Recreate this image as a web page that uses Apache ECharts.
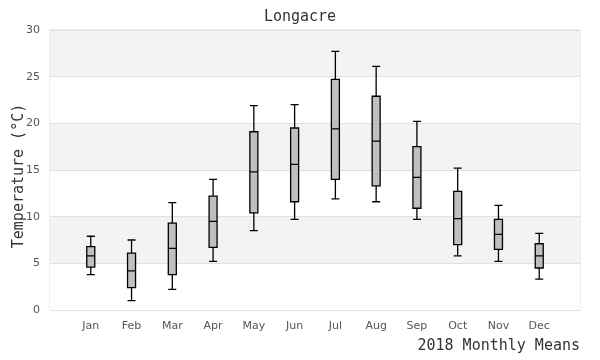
<!DOCTYPE html>
<html>
<head>
<meta charset="utf-8">
<script src="https://cdn.jsdelivr.net/npm/echarts@6/dist/echarts.min.js"></script>
<style>html,body{margin:0;padding:0;background:#fff}#c{width:600px;height:360px}</style>
</head>
<body>
<div id="c"></div>
<script>
var months = ['Jan','Feb','Mar','Apr','May','Jun','Jul','Aug','Sep','Oct','Nov','Dec'];
var minVals = [3.8, 1.0, 2.2, 5.2, 8.5, 9.7, 11.9, 11.6, 9.7, 5.8, 5.2, 3.3];
var q1Vals  = [4.6, 2.4, 3.8, 6.7, 10.4, 11.6, 14.0, 13.3, 10.9, 7.0, 6.5, 4.5];
var medVals = [5.8, 4.2, 6.6, 9.5, 14.8, 15.6, 19.4, 18.1, 14.2, 9.8, 8.1, 5.8];
var q3Vals  = [6.8, 6.1, 9.3, 12.2, 19.1, 19.5, 24.7, 22.9, 17.5, 12.7, 9.7, 7.1];
var maxVals = [7.9, 7.5, 11.5, 14.0, 21.9, 22.0, 27.7, 26.1, 20.2, 15.2, 11.2, 8.2];
var yTicks = [0, 5, 10, 15, 20, 25, 30];

var cats = [''].concat(months).concat(['']);
var boxData = [{value: ['-', '-', '-', '-', '-']}];
for (var i = 0; i < months.length; i++) {
  boxData.push([minVals[i], q1Vals[i], medVals[i], q3Vals[i], maxVals[i]]);
}
boxData.push({value: ['-', '-', '-', '-', '-']});

var chart = echarts.init(document.getElementById('c'), null, {renderer: 'canvas'});
chart.setOption({
  animation: false,
  backgroundColor: '#ffffff',
  title: {
    text: 'Longacre',
    left: 'center',
    top: 5,
    textStyle: {fontFamily: 'DejaVu Sans Mono', fontSize: 15, fontWeight: 'normal', color: '#333'}
  },
  grid: {left: 50, right: 20, top: 30, bottom: 50, outerBoundsMode: 'none', containLabel: false,
         show: true, borderColor: '#dcdcdc', borderWidth: 1, backgroundColor: 'transparent'},
  xAxis: {
    type: 'category',
    data: cats,
    boundaryGap: false,
    name: '2018 Monthly Means',
    nameLocation: 'end',
    nameGap: 0,
    nameMoveOverlap: false,
    nameTextStyle: {fontFamily: 'DejaVu Sans Mono', fontSize: 15, color: '#333', align: 'right', verticalAlign: 'top', padding: [29, 0, 0, 0]},
    axisLine: {show: false},
    axisTick: {show: false},
    splitLine: {show: false},
    axisLabel: {interval: 0, color: '#555', fontFamily: 'DejaVu Sans', fontSize: 11, margin: 11}
  },
  yAxis: {
    type: 'value',
    min: yTicks[0],
    max: yTicks[yTicks.length - 1],
    interval: 5,
    name: 'Temperature (°C)',
    nameLocation: 'middle',
    nameGap: 23,
    nameMoveOverlap: false,
    nameTextStyle: {fontFamily: 'DejaVu Sans Mono', fontSize: 15, color: '#333', padding: [0, 12, 0, 0]},
    axisLine: {show: false},
    axisTick: {show: false},
    axisLabel: {color: '#555', fontFamily: 'DejaVu Sans', fontSize: 11, margin: 10},
    splitLine: {show: true, lineStyle: {color: '#e0e0e0', width: 1}},
    splitArea: {show: true, areaStyle: {color: ['#ffffff', '#f3f3f3']}}
  },
  series: [{
    type: 'boxplot',
    data: boxData,
    boxWidth: [8, 8],
    itemStyle: {color: '#bfbfbf', borderColor: '#000', borderWidth: 1.3},
    emphasis: {disabled: true}
  }]
});
</script>
</body>
</html>
